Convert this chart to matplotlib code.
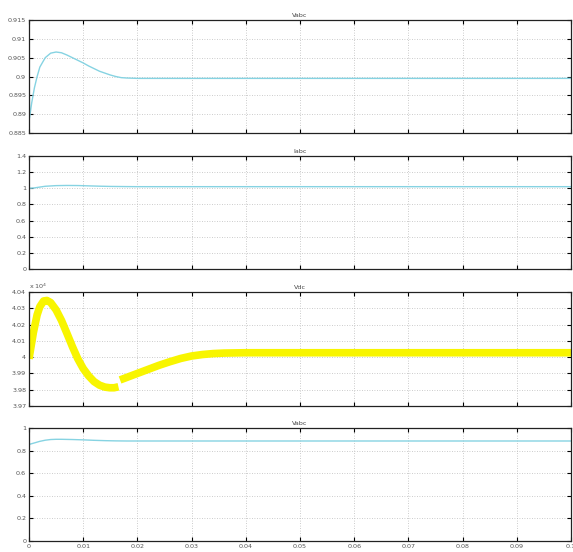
import matplotlib
matplotlib.use("Agg")
import matplotlib.pyplot as plt

# ---- data ----
t1 = [0.0, 0.0001, 0.0005, 0.001, 0.0015, 0.002, 0.003, 0.004, 0.005, 0.006, 0.007, 0.008,
      0.009, 0.010, 0.011, 0.012, 0.013, 0.014, 0.015, 0.016, 0.017, 0.018, 0.020, 0.030,
      0.040, 0.050, 0.060, 0.070, 0.080, 0.090, 0.100]
vabc1 = [0.903, 0.889, 0.893, 0.897, 0.900, 0.9025, 0.9050, 0.9062, 0.9065, 0.9063, 0.9057,
         0.9050, 0.9043, 0.9036, 0.9028, 0.9021, 0.9014, 0.9009, 0.9004, 0.9000, 0.8997,
         0.8996, 0.8995, 0.8995, 0.8995, 0.8995, 0.8995, 0.8995, 0.8995, 0.8995, 0.8995]

t2 = [0.0, 0.00005, 0.001, 0.002, 0.003, 0.005, 0.007, 0.009, 0.011, 0.013, 0.015, 0.018,
      0.020, 0.030, 0.040, 0.050, 0.060, 0.070, 0.080, 0.090, 0.100]
iabc = [0.0, 1.0, 1.005, 1.015, 1.025, 1.033, 1.035, 1.034, 1.03, 1.026, 1.023, 1.021,
        1.02, 1.02, 1.02, 1.02, 1.02, 1.02, 1.02, 1.02, 1.02]

# Vdc in units of 10^4 V, two segments (discontinuity near t = 0.0165)
t3a = [0.0, 0.0008, 0.0015, 0.002, 0.0027, 0.0033, 0.004, 0.005, 0.006, 0.007, 0.008,
       0.009, 0.010, 0.011, 0.012, 0.013, 0.014, 0.0149, 0.0157, 0.0165]
vdc_a = [3.999, 4.015, 4.026, 4.031, 4.0345, 4.0348, 4.0335, 4.029, 4.0225, 4.0146, 4.0065,
         3.9990, 3.9930, 3.9885, 3.9850, 3.9828, 3.9816, 3.9812, 3.9812, 3.9818]
t3b = [0.0168, 0.018, 0.020, 0.022, 0.024, 0.026, 0.028, 0.030, 0.032, 0.034, 0.036, 0.038,
       0.040, 0.050, 0.060, 0.070, 0.080, 0.090, 0.100]
vdc_b = [3.9860, 3.9875, 3.9900, 3.9925, 3.9950, 3.9972, 3.9992, 4.0007, 4.0016, 4.0022,
         4.0025, 4.0026, 4.0027, 4.0027, 4.0027, 4.0027, 4.0027, 4.0027, 4.0027]

t4 = [0.0, 0.00005, 0.001, 0.002, 0.003, 0.004, 0.005, 0.006, 0.008, 0.010, 0.012, 0.014,
      0.016, 0.018, 0.020, 0.030, 0.040, 0.050, 0.060, 0.070, 0.080, 0.090, 0.100]
vabc2 = [0.0, 0.855, 0.868, 0.882, 0.892, 0.898, 0.900, 0.900, 0.898, 0.895, 0.891, 0.888,
         0.886, 0.885, 0.885, 0.885, 0.885, 0.885, 0.885, 0.885, 0.885, 0.885, 0.885]

titles = ["Vabc", "Iabc", "Vdc", "Vabc"]
xticks = [0, 0.01, 0.02, 0.03, 0.04, 0.05, 0.06, 0.07, 0.08, 0.09, 0.1]
xticklabels = ["0", "0.01", "0.02", "0.03", "0.04", "0.05", "0.06", "0.07", "0.08", "0.09", "0.1"]
yt1 = [0.885, 0.89, 0.895, 0.9, 0.905, 0.91, 0.915]
yl1 = ["0.885", "0.89", "0.895", "0.9", "0.905", "0.91", "0.915"]
yt2 = [0, 0.2, 0.4, 0.6, 0.8, 1.0, 1.2, 1.4]
yl2 = ["0", "0.2", "0.4", "0.6", "0.8", "1", "1.2", "1.4"]
yt3 = [3.97, 3.98, 3.99, 4.0, 4.01, 4.02, 4.03, 4.04]
yl3 = ["3.97", "3.98", "3.99", "4", "4.01", "4.02", "4.03", "4.04"]
yt4 = [0, 0.2, 0.4, 0.6, 0.8, 1.0]
yl4 = ["0", "0.2", "0.4", "0.6", "0.8", "1"]

# ---- figure ----
W, H = 573, 552
fig = plt.figure(figsize=(W / 100, H / 100), dpi=100)
fig.patch.set_facecolor("white")

cyan = "#86d3e2"
yellow = "#f8f500"
tick_color = "#555555"
fs = 4.6

panels = [(20, 133), (156, 269), (292, 406), (428, 541)]
left_px, right_px = 29, 571
axes = []
for (top, bot) in panels:
    ax = fig.add_axes([left_px / W, 1 - bot / H, (right_px - left_px) / W, (bot - top) / H])
    axes.append(ax)

ylims = [(0.885, 0.915), (0, 1.4), (3.97, 4.04), (0, 1)]
yts = [yt1, yt2, yt3, yt4]
yls = [yl1, yl2, yl3, yl4]

for i, ax in enumerate(axes):
    ax.set_xlim(0, 0.1)
    ax.set_ylim(*ylims[i])
    ax.set_xticks(xticks)
    ax.set_yticks(yts[i])
    ax.set_yticklabels(yls[i])
    if i == 3:
        ax.set_xticklabels(xticklabels)
    else:
        ax.set_xticklabels([])
    ax.tick_params(direction="in", length=3, width=0.8, top=True, right=True,
                   labelsize=fs, labelcolor=tick_color, pad=2)
    ax.grid(True, linestyle=(0, (1, 2)), color="#bbbbbb", linewidth=0.6)
    for s in ax.spines.values():
        s.set_linewidth(0.9)
        s.set_color("#222222")
    ax.set_title(titles[i], fontsize=fs, color="#444444", pad=2)

axes[0].plot(t1, vabc1, color=cyan, lw=1.0)
axes[1].plot(t2, iabc, color=cyan, lw=1.0)
axes[2].plot(t3a, vdc_a, color=yellow, lw=5.5, solid_capstyle="butt")
axes[2].plot(t3b, vdc_b, color=yellow, lw=5.5, solid_capstyle="butt")
axes[3].plot(t4, vabc2, color=cyan, lw=1.0)

axes[2].text(0.0, 1.01, "x 10$^4$", transform=axes[2].transAxes, fontsize=fs,
             color=tick_color, ha="left", va="bottom")

fig.savefig("out.png", dpi=100, facecolor="white")
